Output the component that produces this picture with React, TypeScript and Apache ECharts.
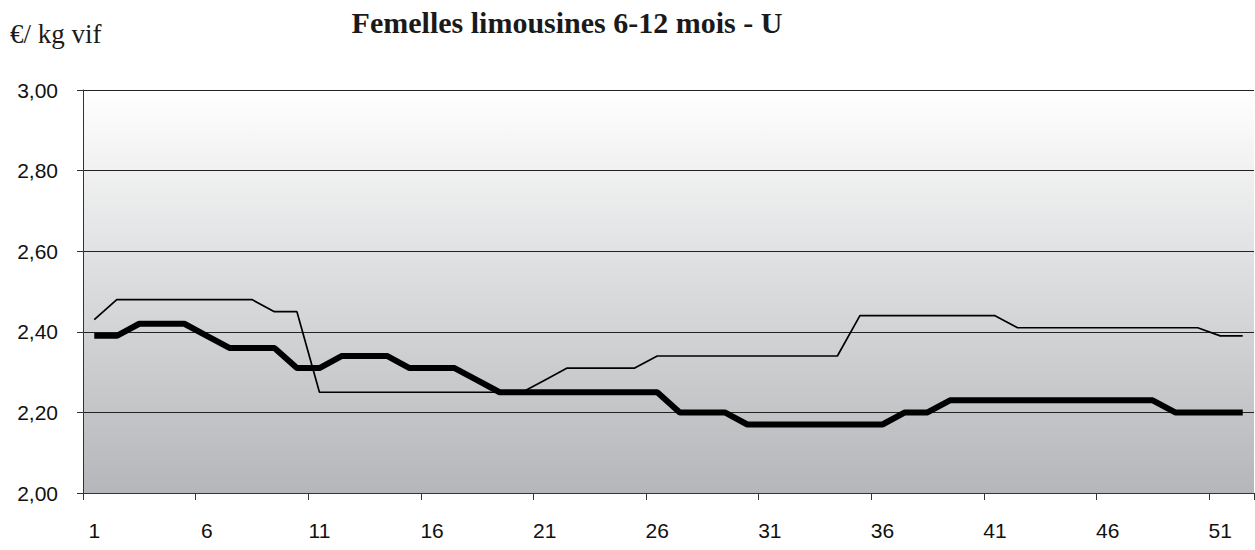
import React, { useEffect, useRef } from "react";
import * as echarts from "echarts";

const weeks: string[] = Array.from({ length: 52 }, (_, i) => String(i + 1));

const seriesThick: number[] = [
  2.39, 2.39, 2.42, 2.42, 2.42, 2.39, 2.36, 2.36, 2.36, 2.31,
  2.31, 2.34, 2.34, 2.34, 2.31, 2.31, 2.31, 2.28, 2.25, 2.25,
  2.25, 2.25, 2.25, 2.25, 2.25, 2.25, 2.20, 2.20, 2.20, 2.17,
  2.17, 2.17, 2.17, 2.17, 2.17, 2.17, 2.20, 2.20, 2.23, 2.23,
  2.23, 2.23, 2.23, 2.23, 2.23, 2.23, 2.23, 2.23, 2.20, 2.20,
  2.20, 2.20,
];

const seriesThin: number[] = [
  2.43, 2.48, 2.48, 2.48, 2.48, 2.48, 2.48, 2.48, 2.45, 2.45,
  2.25, 2.25, 2.25, 2.25, 2.25, 2.25, 2.25, 2.25, 2.25, 2.25,
  2.28, 2.31, 2.31, 2.31, 2.31, 2.34, 2.34, 2.34, 2.34, 2.34,
  2.34, 2.34, 2.34, 2.34, 2.44, 2.44, 2.44, 2.44, 2.44, 2.44,
  2.44, 2.41, 2.41, 2.41, 2.41, 2.41, 2.41, 2.41, 2.41, 2.41,
  2.39, 2.39,
];

const titleText = "Femelles limousines 6-12 mois - U";
const unitText = "€/ kg vif";

export default function App() {
  const ref = useRef<HTMLDivElement>(null);

  useEffect(() => {
    if (!ref.current) return;
    const chart = echarts.init(ref.current, undefined, { renderer: "svg" });
    chart.setOption({
      animation: false,
      backgroundColor: "#ffffff",
      graphic: [
        {
          type: "text",
          x: 567,
          y: 7,
          style: {
            text: titleText,
            font: 'bold 30px "Liberation Serif", "Times New Roman", serif',
            fill: "#1a1a1a",
            textAlign: "center",
            textVerticalAlign: "top",
          },
        },
        {
          type: "text",
          x: 10,
          y: 20,
          style: {
            text: unitText,
            font: '27px "Liberation Serif", "Times New Roman", serif',
            fill: "#1a1a1a",
            textAlign: "left",
            textVerticalAlign: "top",
          },
        },
      ],
      grid: {
        left: 83,
        right: 1,
        top: 90,
        bottom: 57,
        show: true,
        borderWidth: 0,
        backgroundColor: new echarts.graphic.LinearGradient(0, 0, 0, 1, [
          { offset: 0, color: "#ffffff" },
          { offset: 1, color: "#b4b6b9" },
        ]),
      },
      xAxis: {
        type: "category",
        data: weeks,
        boundaryGap: true,
        axisLine: { show: true, lineStyle: { color: "#333333", width: 1 } },
        axisTick: { show: true, interval: 4, length: 7, lineStyle: { color: "#333333" } },
        axisLabel: {
          interval: 4,
          margin: 27,
          fontFamily: '"Liberation Sans", Arial, sans-serif',
          fontSize: 21,
          color: "#111111",
        },
        splitLine: { show: false },
      },
      yAxis: {
        type: "value",
        min: 2,
        max: 3,
        interval: 0.2,
        axisLine: { show: true, lineStyle: { color: "#333333", width: 1 } },
        axisTick: { show: true, length: 6, lineStyle: { color: "#333333" } },
        axisLabel: {
          margin: 25,
          fontFamily: '"Liberation Sans", Arial, sans-serif',
          fontSize: 21,
          color: "#111111",
          formatter: (v: number) => v.toFixed(2).replace(".", ","),
        },
        splitLine: { show: true, lineStyle: { color: "#222222", width: 1 } },
      },
      series: [
        {
          type: "line",
          data: seriesThick,
          symbol: "none",
          lineStyle: { color: "#000000", width: 6 },
          z: 3,
        },
        {
          type: "line",
          data: seriesThin,
          symbol: "none",
          lineStyle: { color: "#000000", width: 1.7 },
          z: 4,
        },
      ],
    });
    return () => chart.dispose();
  }, []);

  return (
    <div
      ref={ref}
      style={{ position: "absolute", left: 0, top: 0, width: 1255, height: 550 }}
    />
  );
}
